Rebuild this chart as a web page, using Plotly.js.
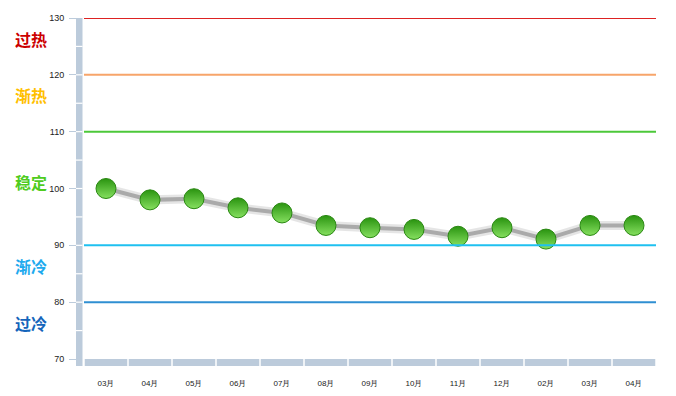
<!DOCTYPE html>
<html><head><meta charset="utf-8">
<script src="https://cdn.plot.ly/plotly-3.0.1.min.js"></script>
<style>html,body{margin:0;padding:0;background:#fff}#chart{width:676px;height:396px}</style>
</head><body><div id="chart"></div>
<script>
// ---- data ----
const months = ['03月','04月','05月','06月','07月','08月','09月','10月','11月','12月','02月','03月','04月'];
const values = [100.0, 98.0, 98.2, 96.6, 95.7, 93.5, 93.1, 92.8, 91.6, 93.1, 91.1, 93.5, 93.5];
const levels = [130, 120, 110, 90, 80];
const levelColors = ['#dd2222', '#f7a56a', '#4cc83a', '#1fc0f0', '#2f8fd2'];
const bandNames = ['过热', '渐热', '稳定', '渐冷', '过冷'];
const bandLabelY = [126.3, 116.4, 101.2, 86.3, 76.3];
const bandColors = ['#cc0000', '#ffc000', '#4fcc1e', '#1eaaee', '#1565bb'];
const yTicks = [70, 80, 90, 100, 110, 120, 130];

const xs = months.map((_, i) => i);
const yMin = 70, yMax = 130;
const barGray = '#bccbdb';

const traces = [
  { x: xs, y: values, mode: 'lines', line: { color: 'rgba(0,0,0,0.10)', width: 9 }, hoverinfo: 'skip', showlegend: false },
  { x: xs, y: values, mode: 'lines', line: { color: '#aaaaaa', width: 4 }, hoverinfo: 'skip', showlegend: false },
  { x: xs, y: values, mode: 'markers', showlegend: false,
    marker: { size: 20, color: '#2a9410', gradient: { type: 'vertical', color: '#86e060' },
              line: { color: '#2a8812', width: 1 } } }
];

const shapes = [];
// threshold lines
levels.forEach((v, i) => {
  shapes.push({ type: 'line', xref: 'x domain', yref: 'y', x0: 0, x1: 1, y0: v, y1: v,
    line: { color: levelColors[i], width: 2 } });
});
// left wall bar
shapes.push({ type: 'rect', xref: 'x domain', yref: 'y domain', x0: -8 / 572, x1: -1.5 / 572, y0: -7 / 341, y1: 1,
  line: { width: 0 }, fillcolor: barGray, layer: 'below' });
for (let v = yMin + 5; v < yMax; v += 5) {
  const f = (v - yMin) / (yMax - yMin);
  shapes.push({ type: 'line', xref: 'x domain', yref: 'y domain', x0: -8 / 572, x1: -1.5 / 572, y0: f, y1: f,
    line: { color: '#ffffff', width: 1.2 } });
}
// bottom floor bar
shapes.push({ type: 'rect', xref: 'x domain', yref: 'y domain', x0: 0, x1: 1, y0: -7 / 341, y1: 0,
  line: { width: 0 }, fillcolor: barGray, layer: 'below' });
for (let k = 0; k <= months.length; k++) {
  const f = k / months.length;
  shapes.push({ type: 'line', xref: 'x domain', yref: 'y domain', x0: f, x1: f, y0: -7 / 341, y1: 0,
    line: { color: '#ffffff', width: 1.5 } });
}

const annotations = bandNames.map((t, i) => ({
  text: '<b>' + t + '</b>', xref: 'paper', yref: 'y', x: -63 / 580, y: bandLabelY[i],
  xanchor: 'left', yanchor: 'middle', showarrow: false,
  font: { family: 'Noto Sans CJK SC', size: 16, color: bandColors[i] }
}));

const layout = {
  width: 676, height: 396,
  margin: { l: 76, r: 20, t: 18, b: 37 },
  paper_bgcolor: '#ffffff', plot_bgcolor: '#ffffff',
  showlegend: false,
  xaxis: {
    domain: [8 / 580, 1], range: [-0.5, months.length - 0.5],
    tickvals: xs, ticktext: months, showgrid: false, zeroline: false, showline: false,
    ticks: '', ticklabelstandoff: 18,
    tickfont: { family: 'Liberation Sans', size: 8, color: '#222' }
  },
  yaxis: {
    anchor: 'free', position: 0, range: [yMin, yMax],
    tickvals: yTicks, showgrid: false, zeroline: false, showline: false,
    ticks: 'outside', ticklen: 7, tickcolor: barGray, tickwidth: 1,
    ticklabelstandoff: 3,
    tickfont: { family: 'Liberation Sans', size: 9, color: '#222' }
  },
  shapes: shapes,
  annotations: annotations
};

Plotly.newPlot('chart', traces, layout, { displayModeBar: false, staticPlot: true });
</script></body></html>
